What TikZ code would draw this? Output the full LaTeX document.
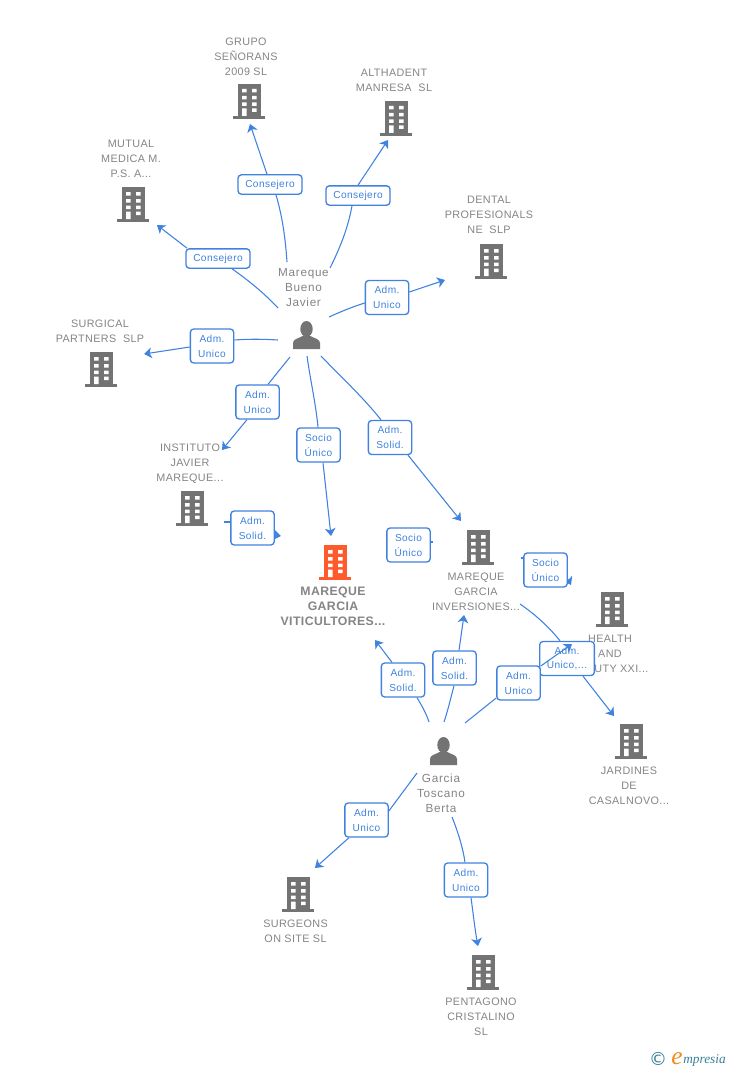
\documentclass[tikz,border=0pt]{standalone}
\usepackage{fontspec}
\setmainfont{Liberation Sans}
\newfontfamily\symfont{DejaVu Sans}
\newfontfamily\logofont{Liberation Serif}
\usetikzlibrary{arrows.meta}
\pgfdeclarelayer{paper}
\pgfdeclarelayer{links}
\pgfsetlayers{paper,links,main}
\definecolor{linkblue}{HTML}{3F82E0}
\definecolor{iconGray}{HTML}{737373}
\definecolor{labelGray}{HTML}{858585}
\definecolor{mainOrange}{HTML}{FF5A2B}
\definecolor{logoTeal}{HTML}{3A7F98}
\definecolor{logoOrange}{HTML}{F28A1E}
\tikzset{
  x=0.75pt,y=-0.75pt,
  lnk/.style={draw=linkblue,line width=0.8pt},
  arr/.style={lnk,-{Stealth[length=5.8pt,width=8pt,inset=1.6pt]}},
  rolebox/.style={draw=linkblue,line width=1pt,rounded corners=2.5pt,fill=white,
    text=linkblue,inner sep=0pt,align=center,minimum width=32.5pt,minimum height=25.5pt,
    font=\fontsize{7.6}{11.2}\selectfont\addfontfeature{LetterSpace=4}},
  widebox/.style={rolebox,minimum width=48pt,minimum height=14.5pt},
  lab/.style={text=labelGray,inner sep=0pt,align=center,
    font=\fontsize{8.1}{11.25}\selectfont\addfontfeature{LetterSpace=3.5}},
  mainlab/.style={lab,font=\fontsize{9.2}{11.25}\selectfont\bfseries\addfontfeature{LetterSpace=3.3}},
  personlab/.style={lab,font=\fontsize{8.8}{11.25}\selectfont\addfontfeature{LetterSpace=6}}
}
\newcommand{\bldg}[4][iconGray]{%
  \begin{scope}[shift={(#3,#4)}]
    \fill[#1] (-11.5,0) rectangle (11.5,32);
    \fill[#1] (-16,32) rectangle (16,35);
    \fill[white] (-7,5) rectangle (-2.5,8.5) (3,5) rectangle (7.5,8.5)
                 (-7,12) rectangle (-2.5,15.5) (3,12) rectangle (7.5,15.5)
                 (-7,18.5) rectangle (-2.5,22) (3,18.5) rectangle (7.5,22)
                 (-7,24.5) rectangle (-2.5,32) (3,24.5) rectangle (7.5,28);
    \coordinate (#2) at (0,17);
  \end{scope}}
\newcommand{\persona}[3]{%
  \begin{scope}[shift={(#2,#3)}]
    \fill[iconGray] (0,8) ellipse (6.2 and 8);
    \fill[iconGray] (-13.5,28) -- (-13.5,22) .. controls (-13.5,18) and (-8,17.5) .. (-4,15)
      -- (4,15) .. controls (8,17.5) and (13.5,18) .. (13.5,22) -- (13.5,28) -- cycle;
    \coordinate (#1) at (0,14);
  \end{scope}}
\begin{document}
\begin{tikzpicture}
\begin{pgfonlayer}{paper}
\fill[white] (0,0) rectangle (728,1070);
\end{pgfonlayer}
\useasboundingbox (0,0) rectangle (728,1070);

% icons
\bldg{grupo}{249}{84}
\bldg{althadent}{396}{101}
\bldg{mutual}{133}{187}
\bldg{dental}{491}{244}
\bldg{surgical}{101}{352}
\bldg{instituto}{192}{491}
\bldg[mainOrange]{mareque}{335}{545}
\bldg{inversiones}{478}{530}
\bldg{health}{612}{592}
\bldg{jardines}{631}{724}
\bldg{surgeons}{298}{877}
\bldg{pentagono}{483}{955}
\persona{javier}{306.5}{321}
\persona{berta}{443.5}{737}

% labels
\node[lab] (lgrupo) at (246,57) {GRUPO\\SEÑORANS\\2009 SL};
\node[lab] (lalthadent) at (394,80.5) {ALTHADENT\\MANRESA\ \ SL};
\node[lab] (lmutual) at (131,159) {MUTUAL\\MEDICA M.\\P.S. A...};
\node[lab] (ldental) at (489,215) {DENTAL\\PROFESIONALS\\NE\ \ SLP};
\node[lab] (lsurgical) at (100,331.5) {SURGICAL\\PARTNERS\ \ SLP};
\node[lab] (linstituto) at (190,464) {INSTITUTO\\JAVIER\\MAREQUE...};
\node[mainlab] (lmareque) at (333,606) {MAREQUE\\GARCIA\\VITICULTORES...};
\node[lab] (linversiones) at (476,592) {MAREQUE\\GARCIA\\INVERSIONES...};
\node[lab] (lhealth) at (610,654) {HEALTH\\AND\\BEAUTY XXI...};
\node[lab] (ljardines) at (629,786) {JARDINES\\DE\\CASALNOVO...};
\node[lab] (lsurgeons) at (295.5,931.5) {SURGEONS\\ON SITE SL};
\node[lab] (lpentagono) at (481,1017) {PENTAGONO\\CRISTALINO\\SL};
\node[personlab] (ljavier) at (303.5,288) {Mareque\\Bueno\\Javier};
\node[personlab] (lberta) at (441,793.5) {Garcia\\Toscano\\Berta};

% free ends of connectors
\coordinate (a1) at (287,262);   \coordinate (a2) at (250,124);
\coordinate (c1) at (330,268);   \coordinate (c2) at (388,140);
\coordinate (d1) at (278,308);   \coordinate (d2) at (157,225);
\coordinate (e1) at (329,317);   \coordinate (e2) at (445,280);
\coordinate (f1) at (278,340);   \coordinate (f2) at (144,354);
\coordinate (g1) at (290,357);   \coordinate (g2) at (222,450);
\coordinate (h1) at (307,356);   \coordinate (h2) at (331,536);
\coordinate (i1) at (321,356);   \coordinate (i2) at (461,521);
\coordinate (j1) at (224,522);   \coordinate (j2) at (281,536);
\coordinate (k1) at (433,542);   \coordinate (k2) at (386,549);
\coordinate (l1) at (521,558);   \coordinate (l2) at (571,585);
\coordinate (m1) at (520,604);   \coordinate (m2) at (614,716);
\coordinate (n1) at (429,722);   \coordinate (n2) at (375,640);
\coordinate (o1) at (444,722);   \coordinate (o2) at (464,615);
\coordinate (p1) at (465,723);   \coordinate (p2) at (572,644);
\coordinate (q1) at (417,773);   \coordinate (q2) at (315,868);
\coordinate (r1) at (452,817);   \coordinate (r2) at (478,946);

% boxes
\node[widebox] (b1) at (270,184.5) {Consejero};
\node[widebox] (b2) at (358,195.5) {Consejero};
\node[widebox] (b3) at (218,258.5) {Consejero};
\node[rolebox] (b4) at (387,297.5) {Adm.\\Unico};
\node[rolebox] (b5) at (212,346) {Adm.\\Unico};
\node[rolebox] (b6) at (257.5,402) {Adm.\\Unico};
\node[rolebox] (b7) at (318.5,445) {Socio\\Único};
\node[rolebox] (b8) at (390,437.5) {Adm.\\Solid.};
\node[rolebox] (b9) at (252.5,528) {Adm.\\Solid.};
\node[rolebox] (b10) at (408.5,545) {Socio\\Único};
\node[rolebox] (b11) at (545.5,570) {Socio\\Único};
\node[rolebox] (b13) at (403,680) {Adm.\\Solid.};
\node[rolebox] (b14) at (454.5,668) {Adm.\\Solid.};
\node[rolebox,minimum width=41pt] (b12) at (567,658.5) {Adm.\\Unico,...};
\node[rolebox] (b15) at (518.5,683) {Adm.\\Unico};
\node[rolebox] (b16) at (366.5,820) {Adm.\\Unico};
\node[rolebox] (b17) at (466,880) {Adm.\\Unico};

% connectors, behind the boxes
\begin{pgfonlayer}{links}
\draw[lnk] (a1) .. controls (285,232) and (281,212) .. (b1.south -| 276,0);
\draw[arr] (b1.north -| 267,0) -- (a2);
\draw[lnk] (c1) .. controls (340,248) and (348,228) .. (b2.south -| 352,0);
\draw[arr] (b2.north -| 358,0) -- (c2);
\draw[lnk] (d1) .. controls (264,293) and (248,280) .. (b3.south -| 232,0);
\draw[arr] (b3.north -| 187,0) -- (d2);
\draw[lnk] (e1) .. controls (340,312) and (352,307) .. (b4.west |- 0,303);
\draw[arr] (b4.east |- 0,292) -- (e2);
\draw[lnk] (f1) .. controls (262,339) and (248,339) .. (b5.east |- 0,340);
\draw[arr] (b5.west |- 0,347) -- (f2);
\draw[lnk] (g1) -- (b6.north -| 268,0);
\draw[arr] (b6.south -| 247,0) -- (g2);
\draw[lnk] (h1) .. controls (310,378) and (316,405) .. (b7.north -| 318,0);
\draw[arr] (b7.south -| 323,0) -- (h2);
\draw[lnk] (i1) .. controls (340,376) and (362,396) .. (b8.north -| 381,0);
\draw[arr] (b8.south -| 408,0) -- (i2);
\draw[lnk] (j1) -- (b9.west |- 0,522);
\draw[arr] (b9.east |- 0,535) -- (j2);
\draw[lnk] (k1) -- (b10.east |- 0,542);
\draw[arr] (b10.west |- 0,549) -- (k2);
\draw[lnk] (l1) -- (b11.west |- 0,558);
\draw[arr] (b11.east |- 0,579) -- (l2);
\draw[lnk] (m1) .. controls (536,615) and (550,628) .. (b12.north -| 560,0);
\draw[arr] (b12.south -| 583,0) -- (m2);
\draw[lnk] (n1) .. controls (426,713) and (422,706) .. (b13.south -| 417,0);
\draw[arr] (b13.north -| 392,0) -- (n2);
\draw[lnk] (o1) .. controls (448,710) and (451,697) .. (b14.south -| 454,0);
\draw[arr] (b14.north -| 459,0) -- (o2);
\draw[lnk] (p1) -- (b15.west |- 0,698);
\draw[lnk] (q1) -- (b16.east |- 0,811);
\draw[arr] (b16.south -| 349,0) -- (q2);
\draw[lnk] (r1) .. controls (458,832) and (463,848) .. (b17.north -| 465,0);
\draw[arr] (b17.south -| 471,0) .. controls (473,912) and (475,930) .. (r2);
\end{pgfonlayer}
% this arrow runs over the box it crosses
\draw[arr] (b15.east |- 0,666) -- (p2);

% logo
\node[inner sep=0pt,text=logoTeal] (copy) at (658,1058.5) {\symfont\fontsize{13.5}{13.5}\selectfont ©};
\node[inner sep=0pt,anchor=base west,text=logoOrange,font=\logofont\itshape\fontsize{19}{19}\selectfont] (logoe) at (671,1064) {e};
\node[inner sep=0pt,anchor=base west,text=logoTeal,font=\logofont\itshape\fontsize{10}{10}\selectfont] (logot) at (683,1063) {mpresia};
\end{tikzpicture}
\end{document}
